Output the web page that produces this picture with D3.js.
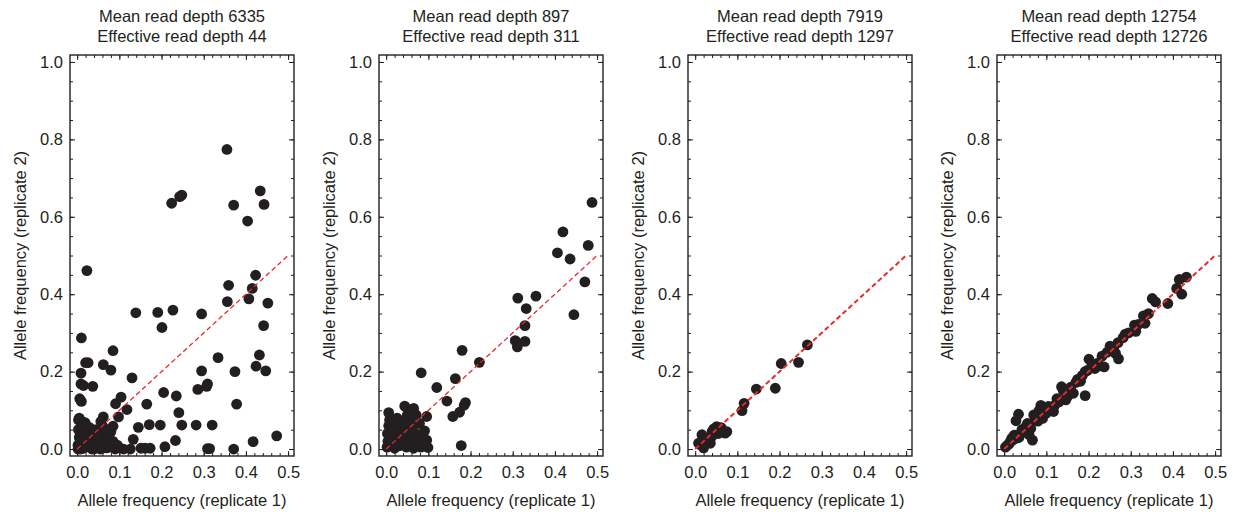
<!DOCTYPE html>
<html>
<head>
<meta charset="utf-8">
<script src="https://cdn.jsdelivr.net/npm/d3@7"></script>
<style>
body { margin: 0; background: #fff; }
text { font-family: "Liberation Sans", Arial, sans-serif; }
</style>
</head>
<body>
<script>
const width = 1233;
const height = 512;

const meanDepth = [6335, 897, 7919, 12754];
const effDepth = [44, 311, 1297, 12726];
const xTicks = [0, 0.1, 0.2, 0.3, 0.4, 0.5];
const yTicks = [0, 0.2, 0.4, 0.6, 0.8, 1.0];

// allele frequency pairs [replicate 1, replicate 2]
const panel1 = [
 [0.355,0.774],[0.224,0.635],[0.243,0.652],[0.248,0.656],[0.434,0.667],[0.371,0.630],[0.443,0.632],
 [0.404,0.589],[0.023,0.461],[0.423,0.449],[0.359,0.423],[0.415,0.415],[0.356,0.381],[0.407,0.388],
 [0.452,0.377],[0.139,0.352],[0.191,0.353],[0.227,0.359],[0.295,0.349],[0.201,0.314],[0.442,0.319],
 [0.010,0.287],[0.085,0.254],[0.432,0.243],[0.334,0.236],[0.020,0.223],[0.026,0.223],[0.062,0.218],
 [0.080,0.204],[0.009,0.196],[0.295,0.202],[0.374,0.200],[0.424,0.214],[0.447,0.202],[0.130,0.184],
 [0.009,0.168],[0.015,0.164],[0.037,0.162],[0.286,0.154],[0.307,0.162],[0.309,0.168],[0.205,0.146],
 [0.006,0.130],[0.010,0.123],[0.104,0.134],[0.235,0.137],[0.091,0.117],[0.378,0.116],[0.165,0.116],
 [0.118,0.102],[0.098,0.083],[0.241,0.094],[0.062,0.083],[0.003,0.075],[0.019,0.068],[0.056,0.071],
 [0.085,0.059],[0.145,0.056],[0.171,0.063],[0.197,0.062],[0.248,0.062],[0.282,0.062],[0.320,0.062],
 [0.473,0.034],[0.133,0.025],[0.233,0.022],[0.417,0.019],[0.208,0.006],[0.309,0.001],[0.314,0.001],
 [0.371,0.000],[0.151,0.002],[0.161,0.002],[0.173,0.002],[0.126,0.000],
 [0.002,0.010],[0.005,0.030],[0.003,0.050],[0.008,0.000],[0.010,0.020],[0.015,0.040],[0.020,0.005],
 [0.025,0.015],[0.030,0.030],[0.035,0.000],[0.040,0.045],[0.045,0.010],[0.050,0.025],[0.055,0.000],
 [0.060,0.040],[0.065,0.015],[0.070,0.003],[0.075,0.030],[0.080,0.005],[0.085,0.020],[0.090,0.000],
 [0.095,0.010],[0.100,0.003],[0.110,0.000],[0.030,0.055],[0.045,0.050],[0.060,0.060],
 [0.020,0.060],[0.012,0.070],[0.070,0.050],[0.080,0.045],[0.005,0.080],[0.040,0.000],[0.060,0.002],
 [0.028,0.008],[0.050,0.045],[0.015,0.002],[0.002,0.000],[0.022,0.025]
];

const panel2 = [
 [0.488,0.637],[0.419,0.561],[0.479,0.526],[0.406,0.507],[0.436,0.491],[0.471,0.432],[0.445,0.347],
 [0.312,0.390],[0.355,0.395],[0.332,0.363],[0.329,0.319],[0.306,0.280],[0.329,0.278],[0.311,0.264],
 [0.180,0.255],[0.221,0.224],[0.083,0.197],[0.164,0.182],[0.120,0.159],[0.144,0.124],[0.188,0.120],
 [0.185,0.113],[0.174,0.095],[0.158,0.084],[0.096,0.084],[0.006,0.094],[0.044,0.111],[0.065,0.105],
 [0.050,0.088],[0.071,0.088],[0.079,0.066],[0.091,0.047],[0.096,0.023],[0.099,0.004],[0.178,0.009],
 [0.002,0.005],[0.004,0.020],[0.003,0.040],[0.006,0.060],[0.010,0.012],[0.012,0.030],[0.015,0.050],
 [0.018,0.070],[0.020,0.002],[0.022,0.020],[0.025,0.040],[0.028,0.060],[0.030,0.008],[0.032,0.028],
 [0.035,0.048],[0.038,0.070],[0.040,0.015],[0.042,0.035],[0.045,0.055],[0.048,0.005],[0.050,0.025],
 [0.052,0.045],[0.055,0.065],[0.058,0.012],[0.060,0.032],[0.062,0.050],[0.065,0.002],[0.068,0.020],
 [0.070,0.040],[0.074,0.010],[0.078,0.030],[0.082,0.005],[0.086,0.025],[0.008,0.075],[0.026,0.080],
 [0.034,0.010],[0.016,0.025],[0.056,0.075]
];

const panel3 = [
 [0.266,0.269],[0.245,0.224],[0.204,0.221],[0.145,0.155],[0.190,0.157],[0.116,0.118],[0.111,0.099],
 [0.051,0.058],[0.059,0.049],[0.067,0.045],[0.047,0.041],[0.071,0.041],[0.039,0.032],[0.032,0.028],
 [0.024,0.020],[0.016,0.037],[0.012,0.011],[0.020,0.003],[0.036,0.015],[0.075,0.045],[0.044,0.052],
 [0.028,0.024],[0.055,0.040],[0.008,0.015],[0.062,0.055],[0.040,0.045]
];

const panel4 = [
 [0.415,0.438],[0.432,0.444],[0.409,0.415],[0.421,0.400],[0.388,0.376],[0.351,0.389],[0.359,0.380],
 [0.330,0.344],[0.334,0.325],[0.309,0.320],[0.312,0.304],[0.287,0.297],[0.282,0.288],[0.271,0.233],
 [0.251,0.266],[0.257,0.256],[0.264,0.247],[0.201,0.232],[0.222,0.222],[0.226,0.215],[0.237,0.212],
 [0.215,0.208],[0.192,0.200],[0.197,0.203],[0.174,0.180],[0.181,0.175],[0.192,0.138],[0.136,0.161],
 [0.140,0.151],[0.146,0.127],[0.150,0.135],[0.164,0.144],[0.120,0.113],[0.117,0.097],[0.087,0.113],
 [0.083,0.100],[0.099,0.092],[0.070,0.088],[0.073,0.075],[0.034,0.090],[0.028,0.073],[0.091,0.079],
 [0.055,0.066],[0.063,0.053],[0.047,0.047],[0.039,0.040],[0.059,0.037],[0.067,0.023],[0.024,0.036],
 [0.020,0.023],[0.012,0.014],[0.008,0.010],[0.003,0.005],[0.015,0.020],[0.030,0.028],[0.042,0.050],
 [0.050,0.056],[0.078,0.085],[0.095,0.103],[0.105,0.110],[0.125,0.130],[0.158,0.160],[0.170,0.172],
 [0.208,0.215],[0.232,0.240],[0.244,0.250],[0.270,0.275],[0.295,0.300],[0.318,0.322],[0.342,0.350],
 [0.109,0.100],[0.130,0.122],[0.185,0.190],[0.260,0.262],[0.080,0.072],[0.035,0.030],[0.018,0.028]
];

const panels = [panel1, panel2, panel3, panel4];
const dashWidth = [1.3, 1.3, 2, 2];

const svg = d3.select("body")
 .append("svg")
 .attr("width", width)
 .attr("height", height);

const pw = 224, ph = 401, plotTop = 55;
const lefts = [70, 379, 688, 997];
const fs = 16.5;

const x = d3.scaleLinear().domain([-0.017, 0.514]).range([0, pw]);
const y = d3.scaleLinear().domain([-0.018, 1.018]).range([ph, 0]);

const xMinor = d3.range(0, 0.5001, 0.02);
const yMinor = d3.range(0, 1.0001, 0.05);

panels.forEach((data, i) => {
 const g = svg.append("g").attr("transform", `translate(${lefts[i]},${plotTop})`);

 // title
 const t = g.append("text")
  .attr("x", pw / 2)
  .attr("y", -33)
  .attr("text-anchor", "middle")
  .attr("font-size", fs)
  .attr("fill", "#231f20");
 t.append("tspan").attr("x", pw / 2).text("Mean read depth " + meanDepth[i]);
 t.append("tspan").attr("x", pw / 2).attr("dy", 20).text("Effective read depth " + effDepth[i]);

 // ticks (inward, on all sides)
 const addAxis = (axis, tr, labels) => {
  const a = g.append("g").attr("transform", tr).call(axis);
  a.select(".domain").remove();
  a.selectAll("line").attr("stroke", "#231f20").attr("stroke-width", 1);
  a.selectAll("text").attr("font-size", fs).attr("fill", "#231f20")
   .attr("font-family", "Liberation Sans, Arial, sans-serif");
  if (!labels) a.selectAll("text").remove();
  return a;
 };
 const fmt = d3.format(".1f");
 addAxis(d3.axisBottom(x).tickValues(xTicks).tickSize(-5).tickPadding(10).tickFormat(fmt), `translate(0,${ph})`, true);
 addAxis(d3.axisBottom(x).tickValues(xMinor).tickSize(-3), `translate(0,${ph})`, false);
 addAxis(d3.axisTop(x).tickValues(xTicks).tickSize(-5), "translate(0,0)", false);
 addAxis(d3.axisTop(x).tickValues(xMinor).tickSize(-3), "translate(0,0)", false);
 addAxis(d3.axisLeft(y).tickValues(yTicks).tickSize(-5).tickPadding(7).tickFormat(fmt), "translate(0,0)", true);
 addAxis(d3.axisLeft(y).tickValues(yMinor).tickSize(-3), "translate(0,0)", false);
 addAxis(d3.axisRight(y).tickValues(yTicks).tickSize(-5), `translate(${pw},0)`, false);
 addAxis(d3.axisRight(y).tickValues(yMinor).tickSize(-3), `translate(${pw},0)`, false);

 // frame
 g.append("rect")
  .attr("width", pw)
  .attr("height", ph)
  .attr("fill", "none")
  .attr("stroke", "#231f20")
  .attr("stroke-width", 1.4);

 // points
 g.selectAll("circle")
  .data(data)
  .enter()
  .append("circle")
  .attr("cx", d => x(d[0]))
  .attr("cy", d => y(d[1]))
  .attr("r", 5.4)
  .attr("fill", "#231f20");

 // identity line
 g.append("line")
  .attr("x1", x(0)).attr("y1", y(0))
  .attr("x2", x(0.5)).attr("y2", y(0.5))
  .attr("stroke", "#e8292e")
  .attr("stroke-width", dashWidth[i])
  .attr("stroke-dasharray", "5,3");

 // axis labels
 g.append("text")
  .attr("x", pw / 2)
  .attr("y", ph + 50)
  .attr("text-anchor", "middle")
  .attr("font-size", fs)
  .attr("fill", "#231f20")
  .text("Allele frequency (replicate 1)");

 g.append("text")
  .attr("transform", `translate(-44,${y(0.5)}) rotate(-90)`)
  .attr("text-anchor", "middle")
  .attr("font-size", fs)
  .attr("fill", "#231f20")
  .text("Allele frequency (replicate 2)");
});
</script>
</body>
</html>
